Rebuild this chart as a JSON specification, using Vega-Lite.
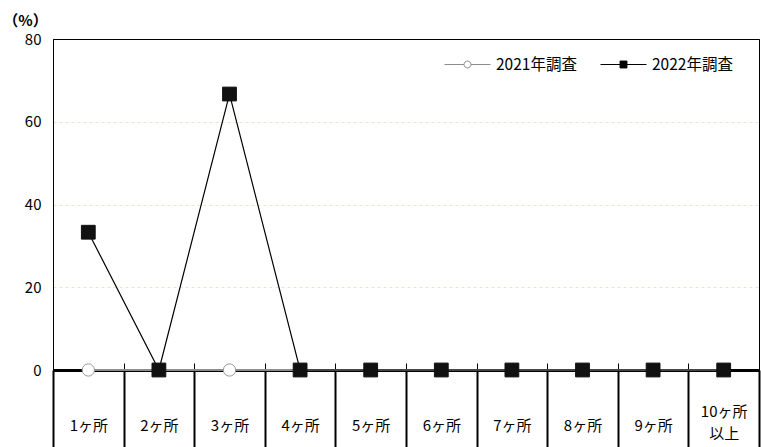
{
  "$schema": "https://vega.github.io/schema/vega-lite/v6.json",
  "autosize": {"type": "none"},
  "padding": {"left": 53, "top": 39, "right": 2, "bottom": 77},
  "width": 706,
  "height": 331,
  "background": "white",
  "config": {
    "font": "Noto Sans CJK JP",
    "view": {"stroke": "#000", "strokeWidth": 1}
  },
  "data": {
    "values": [
      {"cat": "1ヶ所", "series": "2021年調査", "value": 0},
      {"cat": "2ヶ所", "series": "2021年調査", "value": 0},
      {"cat": "3ヶ所", "series": "2021年調査", "value": 0},
      {"cat": "4ヶ所", "series": "2021年調査", "value": 0},
      {"cat": "5ヶ所", "series": "2021年調査", "value": 0},
      {"cat": "6ヶ所", "series": "2021年調査", "value": 0},
      {"cat": "7ヶ所", "series": "2021年調査", "value": 0},
      {"cat": "8ヶ所", "series": "2021年調査", "value": 0},
      {"cat": "9ヶ所", "series": "2021年調査", "value": 0},
      {"cat": "10ヶ所以上", "series": "2021年調査", "value": 0},
      {"cat": "1ヶ所", "series": "2022年調査", "value": 33.3},
      {"cat": "2ヶ所", "series": "2022年調査", "value": 0},
      {"cat": "3ヶ所", "series": "2022年調査", "value": 66.7},
      {"cat": "4ヶ所", "series": "2022年調査", "value": 0},
      {"cat": "5ヶ所", "series": "2022年調査", "value": 0},
      {"cat": "6ヶ所", "series": "2022年調査", "value": 0},
      {"cat": "7ヶ所", "series": "2022年調査", "value": 0},
      {"cat": "8ヶ所", "series": "2022年調査", "value": 0},
      {"cat": "9ヶ所", "series": "2022年調査", "value": 0},
      {"cat": "10ヶ所以上", "series": "2022年調査", "value": 0}
    ]
  },
  "resolve": {"axis": {"x": "independent"}},
  "encoding": {
    "y": {
      "field": "value",
      "type": "quantitative",
      "scale": {"domain": [0, 80]},
      "axis": {
        "values": [0, 20, 40, 60, 80],
        "ticks": false,
        "domainColor": "#000",
        "domainWidth": 1,
        "grid": true,
        "gridColor": {"condition": {"test": "datum.value === 80", "value": "#000000"}, "value": "#e3e8cc"},
        "gridDash": {"condition": {"test": "datum.value === 80", "value": []}, "value": [3, 3]},
        "gridWidth": 1,
        "labelFontSize": 15,
        "labelColor": "#000",
        "labelPadding": 12,
        "title": "（%）",
        "titleAngle": 0,
        "titleAlign": "center",
        "titleBaseline": "middle",
        "titleX": -28,
        "titleY": -19,
        "titleFontSize": 15,
        "titleFontWeight": "bold",
        "titleColor": "#000"
      }
    }
  },
  "layer": [
    {
      "transform": [{"filter": "datum.series == '2021年調査'"}],
      "mark": {"type": "line", "stroke": "#8c8c8c", "strokeWidth": 2},
      "encoding": {
        "x": {
          "field": "cat",
          "type": "nominal",
          "sort": null,
          "bandPosition": 0.5,
          "scale": {"type": "band", "paddingInner": 0, "paddingOuter": 0},
          "axis": {
            "orient": "bottom",
            "title": null,
            "grid": false,
            "domainColor": "#000",
            "domainWidth": 3,
            "tickBand": "extent",
            "tickSize": 77,
            "tickWidth": 2,
            "tickColor": "#000",
            "labelAngle": 0,
            "labelFontSize": 15,
            "labelColor": "#000",
            "labelBaseline": "middle",
            "labelPadding": {"condition": {"test": "datum.value == '10ヶ所以上'", "value": -36}, "value": -22},
            "labelLineHeight": 22,
            "labelExpr": "datum.label == '10ヶ所以上' ? ['10ヶ所', '以上'] : datum.label"
          }
        }
      }
    },
    {
      "transform": [{"filter": "datum.series == '2022年調査'"}],
      "mark": {"type": "line", "stroke": "#000", "strokeWidth": 1.2},
      "encoding": {
        "x": {"field": "cat", "type": "nominal", "sort": null, "bandPosition": 0.5, "axis": null}
      }
    },
    {
      "transform": [{"filter": "datum.series == '2021年調査'"}],
      "mark": {"type": "point", "shape": "circle", "filled": true, "fill": "#fff", "stroke": "#999", "strokeWidth": 1, "size": 150, "opacity": 1},
      "encoding": {
        "x": {"field": "cat", "type": "nominal", "sort": null, "bandPosition": 0.5, "axis": null}
      }
    },
    {
      "transform": [{"filter": "datum.series == '2022年調査'"}],
      "mark": {"type": "point", "shape": "square", "filled": true, "fill": "#111", "stroke": "#111", "strokeWidth": 1, "size": 190, "opacity": 1},
      "encoding": {
        "x": {"field": "cat", "type": "nominal", "sort": null, "bandPosition": 0.5, "axis": null}
      }
    },
    {
      "mark": {"type": "point", "filled": true, "opacity": 0},
      "encoding": {
        "x": {
          "field": "cat",
          "type": "nominal",
          "sort": null,
          "bandPosition": 0.5,
          "axis": {
            "orient": "bottom",
            "title": null,
            "grid": false,
            "labels": false,
            "domain": false,
            "tickBand": "extent",
            "tickSize": -7,
            "tickWidth": 1,
            "tickColor": "#000"
          }
        },
        "shape": {
          "field": "series",
          "type": "nominal",
          "scale": {
            "domain": ["2021年調査", "2022年調査"],
            "range": [
              "M-1,0H-0.15M0.15,0H1M-0.15,0A0.15,0.15,0,1,1,0.15,0A0.15,0.15,0,1,1,-0.15,0Z",
              "M-1,0H1M-0.15,-0.15H0.15V0.15H-0.15Z"
            ]
          },
          "legend": {
            "orient": "none",
            "legendX": 391,
            "legendY": 2,
            "direction": "horizontal",
            "title": null,
            "padding": 0,
            "symbolSize": 2116,
            "symbolStrokeWidth": 1,
            "symbolOpacity": 1,
            "labelFontSize": 15.5,
            "labelColor": "#000",
            "labelOffset": 5,
            "columnPadding": 21
          }
        },
        "fill": {
          "field": "series",
          "type": "nominal",
          "scale": {"domain": ["2021年調査", "2022年調査"], "range": ["#ffffff", "#000000"]}
        },
        "stroke": {
          "field": "series",
          "type": "nominal",
          "scale": {"domain": ["2021年調査", "2022年調査"], "range": ["#8c8c8c", "#000000"]}
        }
      }
    }
  ]
}
